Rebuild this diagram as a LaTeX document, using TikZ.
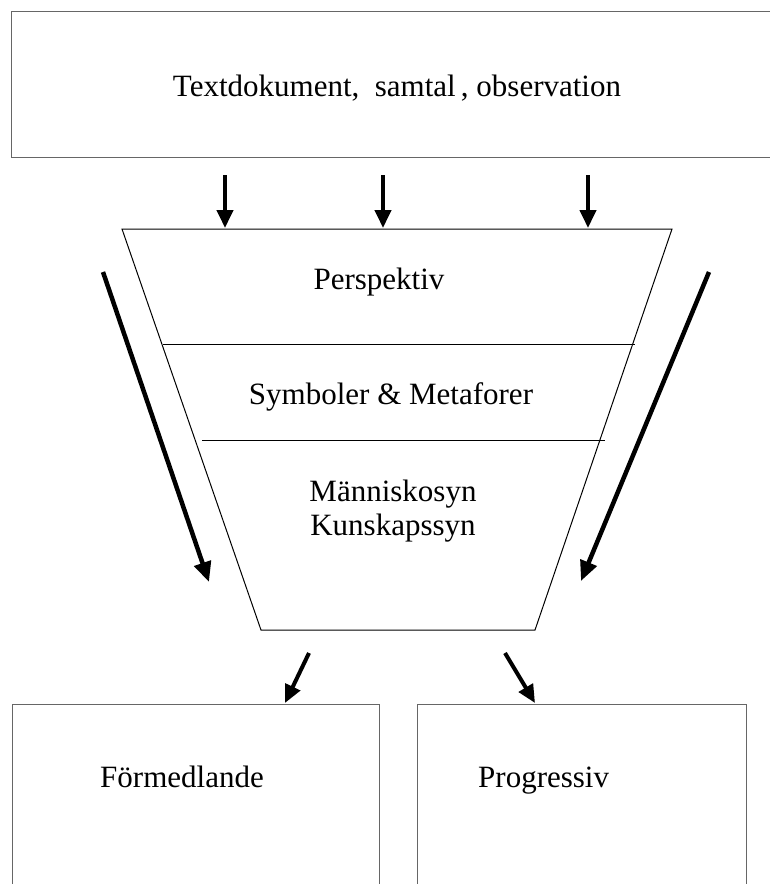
\documentclass[tikz,border=0pt]{standalone}
\usepackage{fontspec}
\setmainfont{Liberation Serif}
\usetikzlibrary{arrows.meta}
\begin{document}
\begin{tikzpicture}[x=1pt,y=-1pt,
  boxst/.style={draw=black!60, line width=1.3pt, rectangle, inner sep=0pt},
  lbl/.style={font=\fontsize{31}{37}\selectfont, inner sep=0pt},
  thinln/.style={line width=1pt},
  bigarrow/.style={line width=4.5pt, -{Triangle[length=20pt,width=17pt]}},
  arr/.style={line width=4pt, -{Triangle[length=18pt,width=16pt]}}]
\useasboundingbox (0,0) rectangle (770,884);
\clip (0,0) rectangle (770,884);
% top box
\node[boxst, minimum width=775pt, minimum height=146pt, anchor=north west] (src) at (11,11) {};
\node[lbl] (srct) at (397,88) {Textdokument,\ \ samtal\,, observation};
% trapezoid
\coordinate (tl) at (122,229);
\coordinate (tr) at (672,229);
\coordinate (br) at (535,630);
\coordinate (bl) at (261,630);
\draw[thinln] (tl) -- (tr) -- (br) -- (bl) -- cycle;
\coordinate (l1a) at (163,344); \coordinate (l1b) at (635,344);
\coordinate (l2a) at (202,440); \coordinate (l2b) at (605,440);
\draw[thinln] (l1a) -- (l1b);
\draw[thinln] (l2a) -- (l2b);
\node[lbl] (persp) at (379,282) {Perspektiv};
\node[lbl] (symb) at (391,397) {Symboler \& Metaforer};
\node[lbl, align=center, font=\fontsize{31}{34}\selectfont] (syn) at (393,511) {Människosyn\\Kunskapssyn};
% bottom boxes
\node[boxst, minimum width=367pt, minimum height=200pt, anchor=north west] (form) at (12,704) {};
\node[boxst, minimum width=329pt, minimum height=200pt, anchor=north west] (prog) at (417,704) {};
\node[lbl, anchor=base west] (formt) at (100,787) {Förmedlande};
\node[lbl, anchor=base west] (progt) at (478,787) {Progressiv};
% arrow coordinates
\coordinate (a1s) at (225,175); \coordinate (a1e) at (225,228);
\coordinate (a2s) at (383,175); \coordinate (a2e) at (383,228);
\coordinate (a3s) at (588,175); \coordinate (a3e) at (588,228);
\coordinate (bls) at (103,272); \coordinate (ble) at (209,582);
\coordinate (brs) at (709,272); \coordinate (bre) at (581,581);
\coordinate (sls) at (309,653); \coordinate (sle) at (285,703);
\coordinate (srs) at (505,653); \coordinate (sre) at (535,703);
\draw[arr] (a1s) -- (a1e);
\draw[arr] (a2s) -- (a2e);
\draw[arr] (a3s) -- (a3e);
\draw[bigarrow] (bls) -- (ble);
\draw[bigarrow] (brs) -- (bre);
\draw[arr] (sls) -- (sle);
\draw[arr] (srs) -- (sre);
\end{tikzpicture}
\end{document}
